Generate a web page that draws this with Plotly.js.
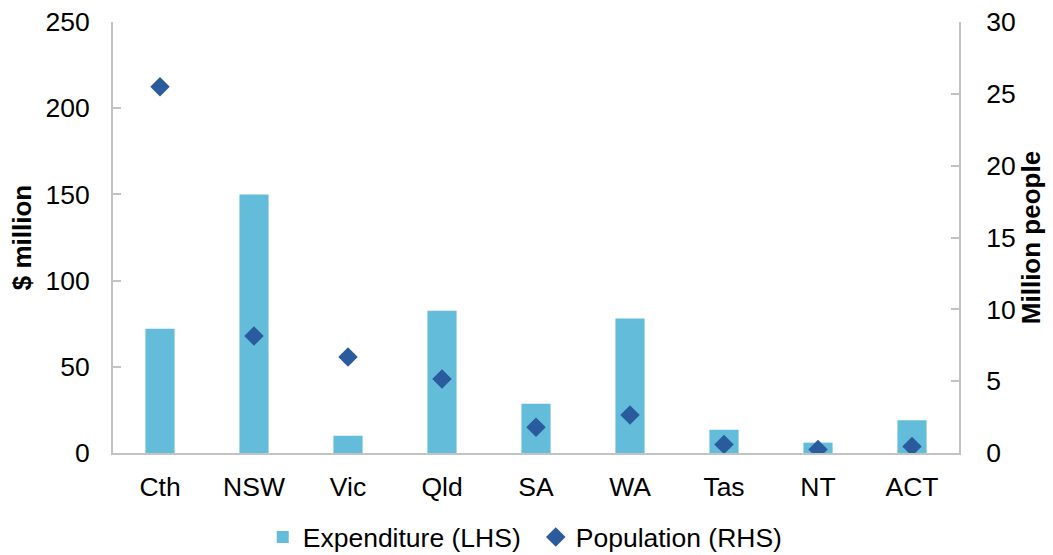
<!DOCTYPE html>
<html>
<head>
<meta charset="utf-8">
<script src="https://cdn.plot.ly/plotly-3.0.1.min.js"></script>
<style>html,body{margin:0;padding:0;background:#fff;}#chart{width:1053px;height:555px;}</style>
</head>
<body>
<div id="chart"></div>
<script>
const categories = ["Cth", "NSW", "Vic", "Qld", "SA", "WA", "Tas", "NT", "ACT"];
const expenditure = [72, 150, 10, 82.5, 28.5, 78, 13.5, 6, 19];
const population = [25.5, 8.15, 6.68, 5.15, 1.8, 2.65, 0.6, 0.25, 0.45];
const leftTicks = [0, 50, 100, 150, 200, 250];
const rightTicks = [0, 5, 10, 15, 20, 25, 30];

const fontFam = "Liberation Sans, Arial, sans-serif";
const axisCol = "#c3c3c3";
const fs = 26.5;

const traces = [
  {
    type: "bar", name: "Expenditure (LHS)", x: categories, y: expenditure,
    marker: {color: "#63BCDA"}, yaxis: "y"
  },
  {
    type: "scatter", mode: "markers", name: "Population (RHS)", x: categories, y: population,
    marker: {symbol: "diamond", size: 15, color: "#2A5C9D"}, yaxis: "y2"
  }
];

const layout = {
  width: 1053, height: 555,
  margin: {l: 113, r: 94, t: 22, b: 102},
  paper_bgcolor: "#fff", plot_bgcolor: "#fff",
  font: {family: fontFam, size: fs, color: "#000"},
  bargap: 0.69,
  showlegend: true,
  legend: {
    orientation: "h", x: 0.177, xanchor: "left", xref: "paper",
    y: 0.032, yanchor: "middle", yref: "container",
    font: {family: fontFam, size: fs, color: "#000"}, itemwidth: 30, tracegroupgap: 0,
    entrywidth: 228, traceorder: "normal"
  },
  xaxis: {
    type: "category", range: [-0.5, categories.length - 0.5], autorange: false,
    showline: true, linecolor: axisCol, linewidth: 2,
    ticks: "", showgrid: false, zeroline: false, ticklabelstandoff: 9,
    tickfont: {family: fontFam, size: fs, color: "#000"}
  },
  yaxis: {
    range: [0, 250], tickvals: leftTicks, ticktext: leftTicks.map(String),
    showline: true, linecolor: axisCol, linewidth: 2, ticks: "inside", ticklen: 8,
    tickcolor: axisCol, tickwidth: 2, showgrid: false, zeroline: false,
    ticklabelstandoff: 16,
    tickfont: {family: fontFam, size: fs, color: "#000"},
    title: {text: "<b>$ million</b>", font: {family: fontFam, size: 26, color: "#000"}, standoff: 6},
    automargin: false
  },
  yaxis2: {
    range: [0, 30], tickvals: rightTicks, ticktext: rightTicks.map(String),
    overlaying: "y", side: "right",
    showline: true, linecolor: axisCol, linewidth: 2, ticks: "inside", ticklen: 8,
    tickcolor: axisCol, tickwidth: 2, showgrid: false, zeroline: false,
    ticklabelstandoff: 20,
    tickfont: {family: fontFam, size: fs, color: "#000"},
    title: {text: "<b>Million people</b>", font: {family: fontFam, size: 26, color: "#000"}, standoff: 2},
    automargin: false
  }
};

Plotly.newPlot("chart", traces, layout, {displayModeBar: false, staticPlot: true});
</script>
</body>
</html>
